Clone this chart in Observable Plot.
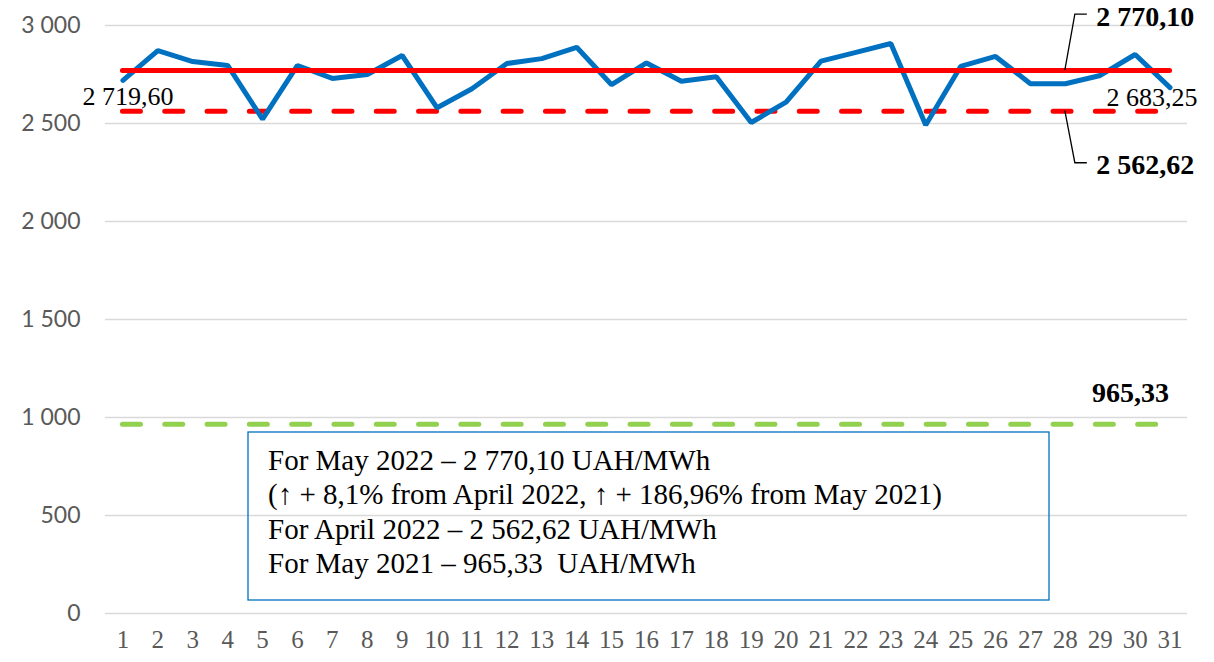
<!DOCTYPE html>
<html><head><meta charset="utf-8">
<script src="https://cdn.jsdelivr.net/npm/d3@7"></script>
<script src="https://cdn.jsdelivr.net/npm/@observablehq/plot@0.6"></script>
<style>
body{margin:0;background:#fff}
#chart{position:relative;width:1214px;height:662px}
</style>
</head><body><div id="chart"></div>
<script>
const days = [1,2,3,4,5,6,7,8,9,10,11,12,13,14,15,16,17,18,19,20,21,22,23,24,25,26,27,28,29,30,31];
const prices = [2719.60,2872,2816,2796,2522,2796,2730,2750,2847,2580,2677,2806,2831,2889,2698,2809,2716,2739,2505,2609,2818,2863,2908,2492,2791,2842,2703,2703,2745,2852,2683.25];
const avgMay2022 = 2770.10;
const avgApr2022 = 2562.62;
const avgMay2021 = 965.33;
const yTicks = [0,500,1000,1500,2000,2500,3000];
const noteLines = [
  "For May 2022 \u2013 2 770,10 UAH/MWh",
  "(\u2191 + 8,1% from April 2022, \u2191 + 186,96% from May 2021)",
  "For April 2022 \u2013 2 562,62 UAH/MWh",
  "For May 2021 \u2013 965,33  UAH/MWh"
];
const calloutDay = 28;

const fmtInt = d => d3.format(",")(d).replace(/,/g, "\u00a0");
const fmtDec = d => d3.format(",.2f")(d).replace(/,/g, " ").replace(".", ",");

const serif = "'Liberation Serif', 'Times New Roman', serif";
const sans = "Lato, 'Open Sans', sans-serif";

const series = days.map((d, i) => ({day: d, value: prices[i]}));
const firstPoint = [series[0]];
const lastPoint = [series[series.length - 1]];

function annotations(index, scales) {
  const {x, y} = scales;
  const g = d3.create("svg:g");
  const px = x(calloutDay);
  [[avgMay2022, -1], [avgApr2022, 1]].forEach(([v, dir]) => {
    const py = y(v);
    const ey = dir < 0 ? py - 56 : py + 52;
    g.append("path")
      .attr("d", `M${px},${py}L${px + 10},${ey}L${px + 22},${ey}`)
      .attr("fill", "none").attr("stroke", "#000").attr("stroke-width", 1.3);
  });
  const bx = 248, by = 432, bw = 801, bh = 168;
  g.append("rect").attr("x", bx).attr("y", by).attr("width", bw).attr("height", bh)
    .attr("fill", "none").attr("stroke", "#0070C0").attr("stroke-width", 1.3);
  const t = g.append("text").attr("font-family", serif).attr("font-size", 29)
    .attr("fill", "#000").attr("text-anchor", "start");
  noteLines.forEach((s, i) => {
    t.append("tspan").attr("x", bx + 20).attr("y", by + 38 + i * 34.3).text(s);
  });
  return g.node();
}

const chart = Plot.plot({
  width: 1214, height: 662,
  marginLeft: 105, marginRight: 27, marginTop: 25, marginBottom: 49,
  style: {background: "#fff", overflow: "visible"},
  x: {type: "linear", domain: [0.5, 31.5], axis: null},
  y: {domain: [0, 3000], axis: null},
  marks: [
    Plot.gridY(yTicks, {stroke: "#d9d9d9", strokeOpacity: 1, strokeWidth: 1.3}),
    Plot.axisY(yTicks, {tickSize: 0, tickPadding: 25, tickFormat: fmtInt, fontSize: 23, fill: "#595959", fontFamily: sans, label: null}),
    Plot.axisX(days, {tickSize: 0, tickPadding: 17, tickFormat: d => String(d), fontSize: 25, fill: "#595959", fontFamily: serif, label: null}),
    Plot.ruleY([avgMay2021], {x1: days[0], x2: days[30], stroke: "#92D050", strokeWidth: 5, strokeDasharray: "18 24.3", strokeLinecap: "round"}),
    Plot.ruleY([avgApr2022], {x1: days[0], x2: days[30], stroke: "#FF0000", strokeWidth: 5, strokeDasharray: "18 24.3", strokeLinecap: "round"}),
    Plot.line(series, {x: "day", y: "value", stroke: "#0070C0", strokeWidth: 5, strokeLinejoin: "miter"}),
    Plot.ruleY([avgMay2022], {x1: days[0], x2: days[30], stroke: "#FF0000", strokeWidth: 5, strokeLinecap: "round"}),
    Plot.text(firstPoint, {x: "day", y: "value", text: d => fmtDec(d.value), dx: 5, dy: 16, fontSize: 26, fontFamily: serif, fill: "#000"}),
    Plot.text(lastPoint, {x: "day", y: "value", text: d => fmtDec(d.value), dx: -18, dy: 10, fontSize: 26, fontFamily: serif, fill: "#000"}),
    Plot.text([avgMay2022], {x: () => calloutDay, y: d => d, text: fmtDec, textAnchor: "start", dx: 31, dy: -54, fontSize: 28, fontWeight: "bold", fontFamily: serif, fill: "#000"}),
    Plot.text([avgApr2022], {x: () => calloutDay, y: d => d, text: fmtDec, textAnchor: "start", dx: 31, dy: 54, fontSize: 28, fontWeight: "bold", fontFamily: serif, fill: "#000"}),
    Plot.text([avgMay2021], {x: () => days[30], y: d => d, text: fmtDec, textAnchor: "end", dx: -1, dy: -31, fontSize: 28, fontWeight: "bold", fontFamily: serif, fill: "#000"}),
    annotations
  ]
});
document.getElementById("chart").appendChild(chart);
</script>
</body></html>
